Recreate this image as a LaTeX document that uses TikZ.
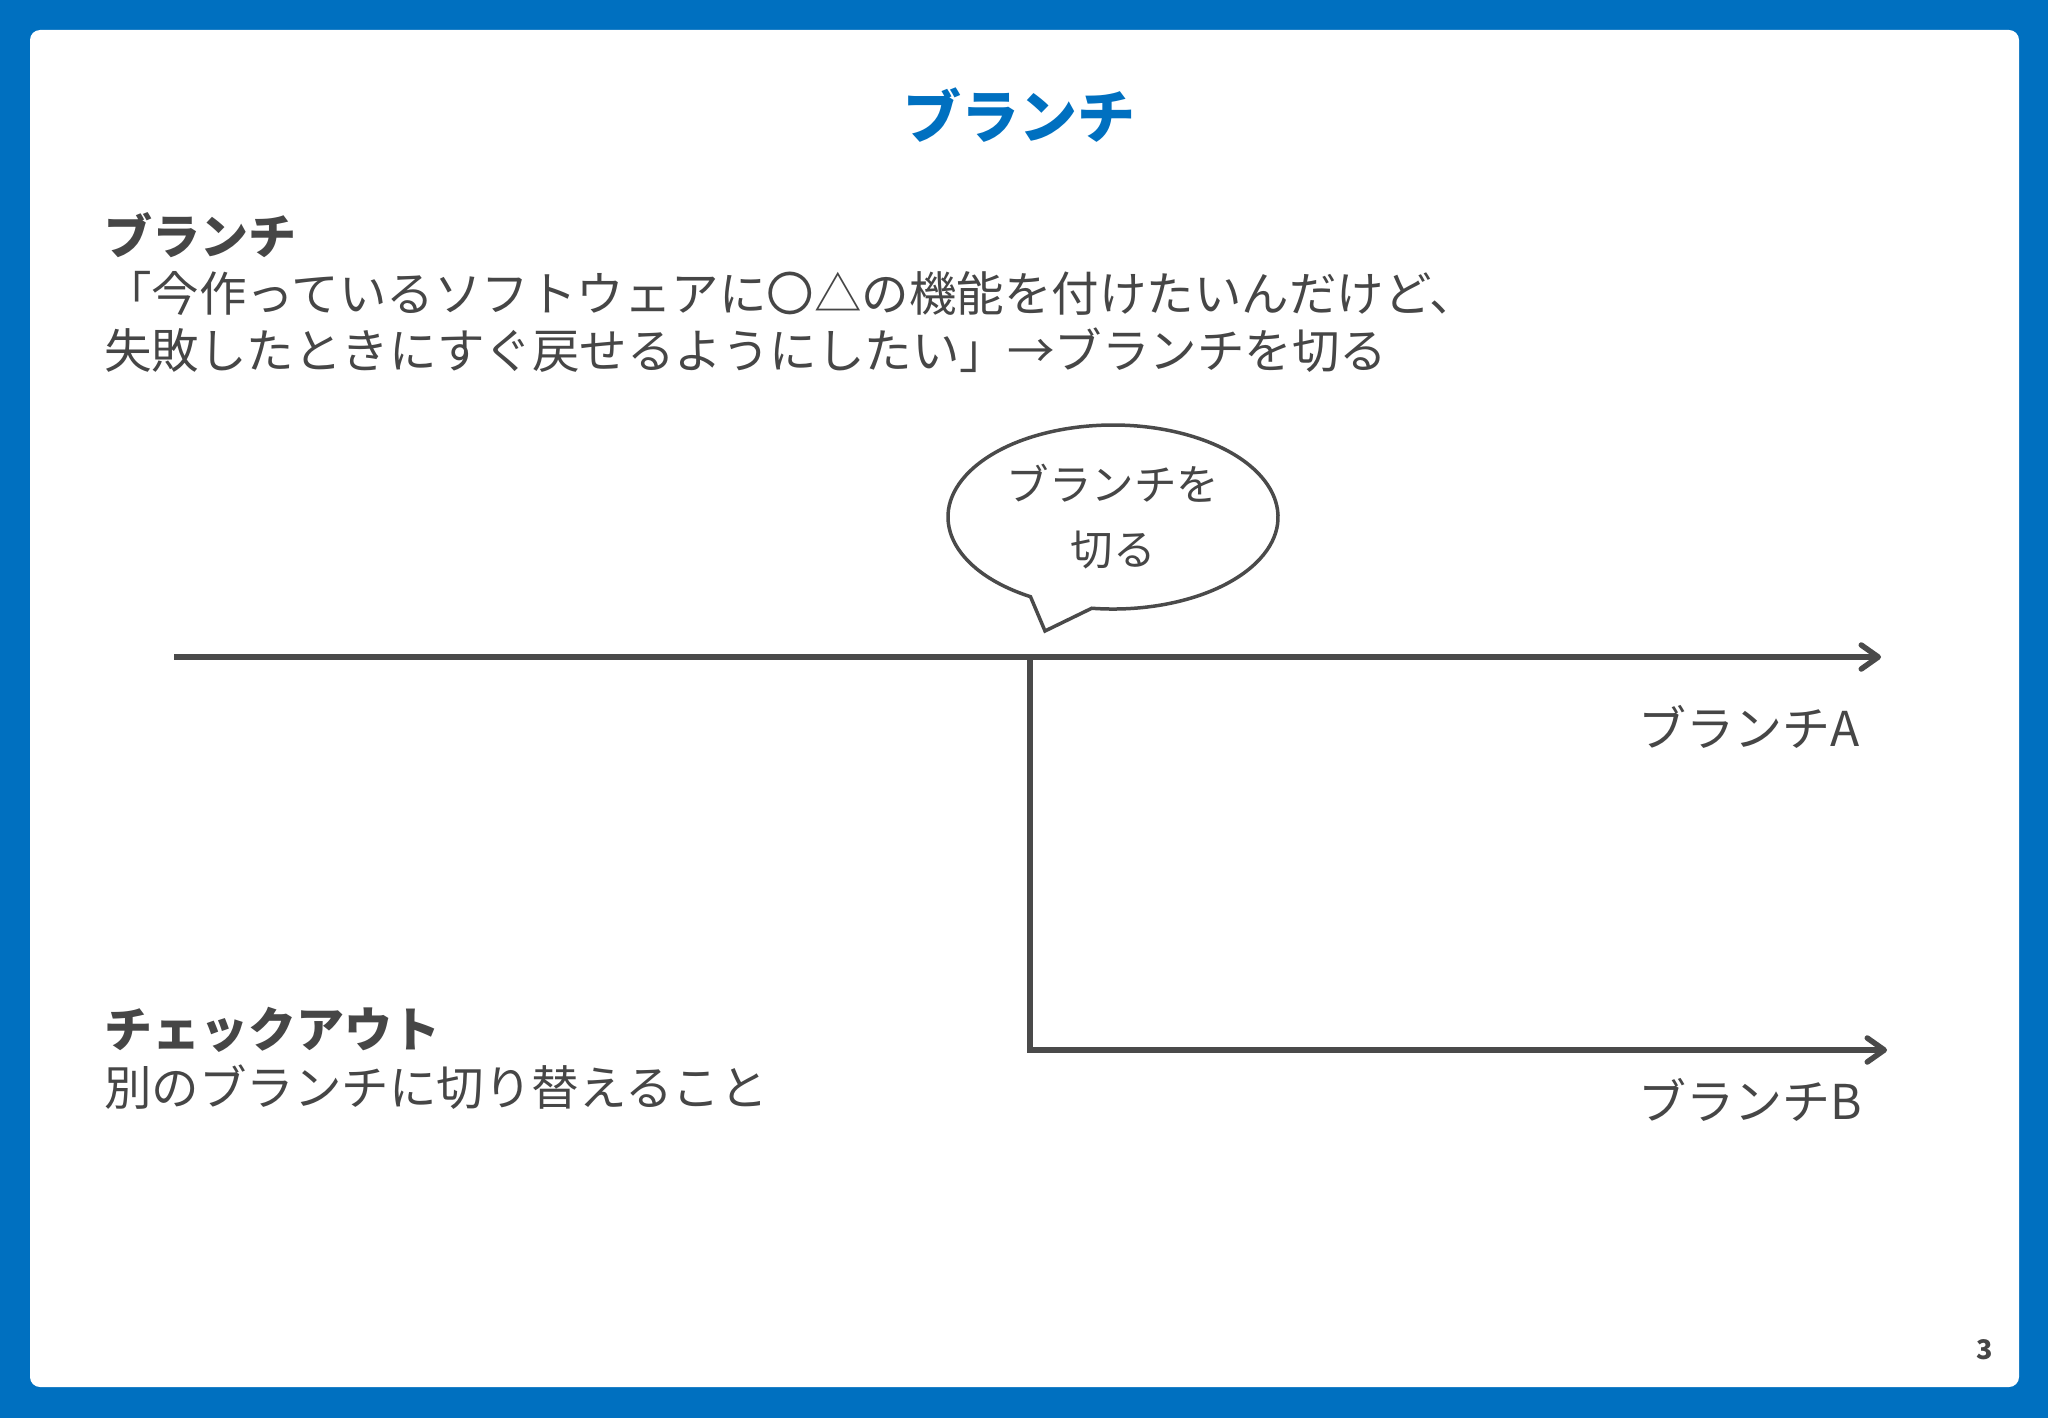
\documentclass[tikz,border=0pt]{standalone}
\usepackage{fontspec}
\setmainfont{Noto Sans CJK JP}
\usetikzlibrary{arrows.meta}
\definecolor{frameblue}{HTML}{0070C0}
\definecolor{ink}{HTML}{464646}
\definecolor{lineink}{HTML}{4A4A4A}
\begin{document}
\begin{tikzpicture}[x=1pt,y=-1pt,
  txt/.style={inner sep=0pt,text=ink,font=\fontsize{47.5}{56}\selectfont},
  head/.style={txt,font=\fontsize{48}{56}\selectfont\bfseries},
  flow/.style={draw=lineink,line width=5.5pt,line join=miter,
     -{Straight Barb[round,length=17pt,width=24pt]}},
]
\useasboundingbox (0,0) rectangle (2048,1418);
\fill[frameblue] (0,0) rectangle (2048,1418);
\fill[white,rounded corners=10pt] (30,30) rectangle (2019,1387);

\node[inner sep=0pt,text=frameblue,font=\fontsize{58}{66}\selectfont\bfseries] (title) at (1019,115) {ブランチ};

\node[head,anchor=west] (h1) at (104,235) {ブランチ};
\node[txt,anchor=west] (l1) at (104,293) {「今作っているソフトウェアに〇△の機能を付けたいんだけど、};
\node[txt,anchor=west] (l2) at (104,350) {失敗したときにすぐ戻せるようにしたい」→ブランチを切る};

\node[head,anchor=west] (h2) at (104,1030) {チェックアウト};
\node[txt,anchor=west] (l3) at (104,1087) {別のブランチに切り替えること};

% speech bubble
\draw[lineink,line width=3.5pt,fill=white,line join=miter]
  (1045,631) -- (1030.5,596.7) arc[start angle=120,end angle=457.4,x radius=165,y radius=92] -- cycle;
\node[inner sep=0pt,text=ink,font=\fontsize{42.5}{50}\selectfont] (bt1) at (1113,483) {ブランチを};
\node[inner sep=0pt,text=ink,font=\fontsize{42.5}{50}\selectfont] (bt2) at (1113,550) {切る};

% branches
\coordinate (a0) at (174,657);
\coordinate (aEnd) at (1881,657);
\coordinate (fork) at (1030,657);
\coordinate (bcorner) at (1030,1050);
\coordinate (bEnd) at (1887,1050);
\draw[flow] (a0) -- (aEnd);
\draw[flow] (fork) -- (bcorner) -- (bEnd);

\node[txt,anchor=west,font=\fontsize{48}{56}\selectfont] (labA) at (1638,727) {ブランチA};
\node[txt,anchor=west,font=\fontsize{48}{56}\selectfont] (labB) at (1638,1100) {ブランチB};

\node[inner sep=0pt,text=ink,font=\fontsize{27}{30}\selectfont\bfseries] (pg) at (1985,1350) {3};
\end{tikzpicture}
\end{document}
